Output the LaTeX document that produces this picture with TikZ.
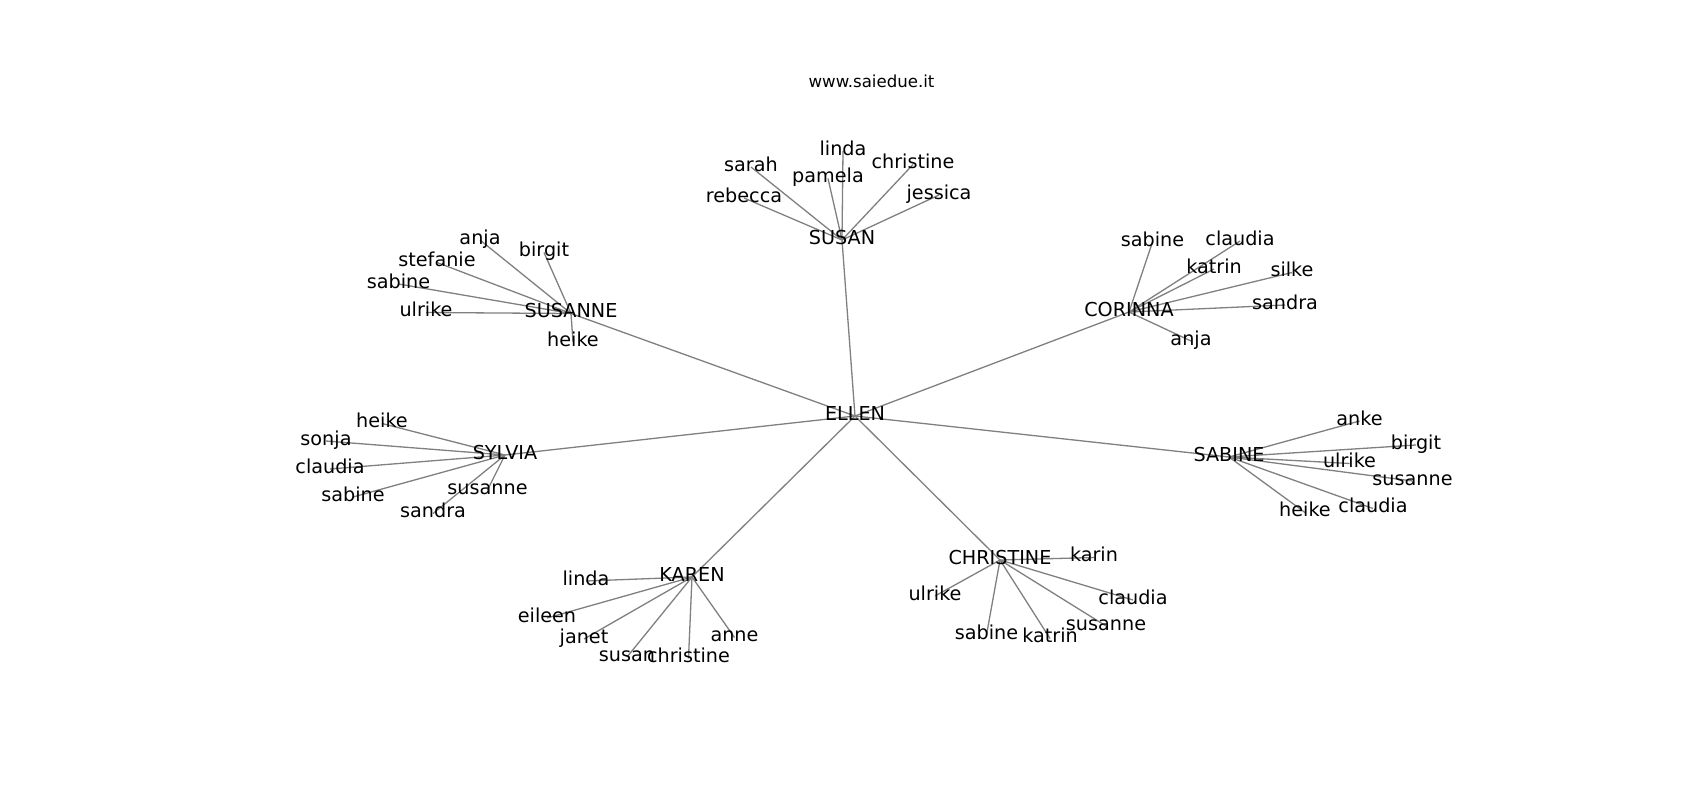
\documentclass[tikz,border=0pt]{standalone}
\usepackage{fontspec}
\setmainfont{DejaVu Sans}
\pgfdeclarelayer{edges}
\pgfsetlayers{edges,main}
\begin{document}
\begin{tikzpicture}[x=1pt,y=-1pt,
  lbl/.style={inner sep=0pt,outer sep=0pt,anchor=center,font=\fontsize{19.2}{23}\selectfont,text height=0.93em,text depth=0.07em},
  edge/.style={draw=black!50,line width=1.3pt}]
\useasboundingbox (0,0) rectangle (1700,800);
\begin{pgfonlayer}{edges}
\fill[white] (0,0) rectangle (1700,800);
\end{pgfonlayer}
\node[inner sep=0pt,font=\fontsize{16.6}{20}\selectfont,anchor=base] (title) at (871.5,88) {www.saiedue.it};
% hubs
\node[lbl] (ellen) at (855,416) {ELLEN};
\node[lbl] (susan) at (842,240) {SUSAN};
\node[lbl] (susanne) at (571,313.5) {SUSANNE};
\node[lbl] (corinna) at (1129,312) {CORINNA};
\node[lbl] (sylvia) at (505,455) {SYLVIA};
\node[lbl] (sabine) at (1229,457) {SABINE};
\node[lbl] (karen) at (692,577) {KAREN};
\node[lbl] (christine) at (1000,560) {CHRISTINE};
% SUSAN leaves
\node[lbl] (a1) at (843,151) {linda};
\node[lbl] (a2) at (751,167) {sarah};
\node[lbl] (a3) at (828,178.5) {pamela};
\node[lbl] (a4) at (913,164.5) {christine};
\node[lbl] (a5) at (744,198) {rebecca};
\node[lbl] (a6) at (939,195) {jessica};
% SUSANNE leaves
\node[lbl] (b1) at (480,240) {anja};
\node[lbl] (b2) at (544,252.5) {birgit};
\node[lbl] (b3) at (437,262.5) {stefanie};
\node[lbl] (b4) at (398.5,284) {sabine};
\node[lbl] (b5) at (426,312.5) {ulrike};
\node[lbl] (b6) at (573,342) {heike};
% CORINNA leaves
\node[lbl] (c1) at (1152.5,242) {sabine};
\node[lbl] (c2) at (1240,241) {claudia};
\node[lbl] (c3) at (1214,269) {katrin};
\node[lbl] (c4) at (1292,272.5) {silke};
\node[lbl] (c5) at (1285,305) {sandra};
\node[lbl] (c6) at (1191,341) {anja};
% SYLVIA leaves
\node[lbl] (d1) at (382,423.5) {heike};
\node[lbl] (d2) at (326,441) {sonja};
\node[lbl] (d3) at (330,469) {claudia};
\node[lbl] (d4) at (353,497) {sabine};
\node[lbl] (d5) at (487.5,490) {susanne};
\node[lbl] (d6) at (433,513.5) {sandra};
% SABINE leaves
\node[lbl] (e1) at (1359.5,421) {anke};
\node[lbl] (e2) at (1416,445) {birgit};
\node[lbl] (e3) at (1349.5,463.5) {ulrike};
\node[lbl] (e4) at (1412.5,481) {susanne};
\node[lbl] (e5) at (1373,508.5) {claudia};
\node[lbl] (e6) at (1305,512.5) {heike};
% KAREN leaves
\node[lbl] (f1) at (586,581) {linda};
\node[lbl] (f2) at (547,618) {eileen};
\node[lbl] (f3) at (584,639) {janet};
\node[lbl] (f4) at (627,657) {susan};
\node[lbl] (f5) at (688.5,658.5) {christine};
\node[lbl] (f6) at (734.5,637.5) {anne};
% CHRISTINE leaves
\node[lbl] (g1) at (1094,557.5) {karin};
\node[lbl] (g2) at (935,596) {ulrike};
\node[lbl] (g3) at (986.5,635) {sabine};
\node[lbl] (g4) at (1050,638.5) {katrin};
\node[lbl] (g5) at (1106,626) {susanne};
\node[lbl] (g6) at (1133,600) {claudia};
\begin{pgfonlayer}{edges}
\foreach \h in {susan,susanne,corinna,sylvia,sabine,karen,christine}
  \draw[edge] (ellen.center) -- (\h.center);
\foreach \i in {1,...,6} {
  \draw[edge] (susan.center) -- (a\i.center);
  \draw[edge] (susanne.center) -- (b\i.center);
  \draw[edge] (corinna.center) -- (c\i.center);
  \draw[edge] (sylvia.center) -- (d\i.center);
  \draw[edge] (sabine.center) -- (e\i.center);
  \draw[edge] (karen.center) -- (f\i.center);
  \draw[edge] (christine.center) -- (g\i.center);
}
\end{pgfonlayer}
\end{tikzpicture}
\end{document}
